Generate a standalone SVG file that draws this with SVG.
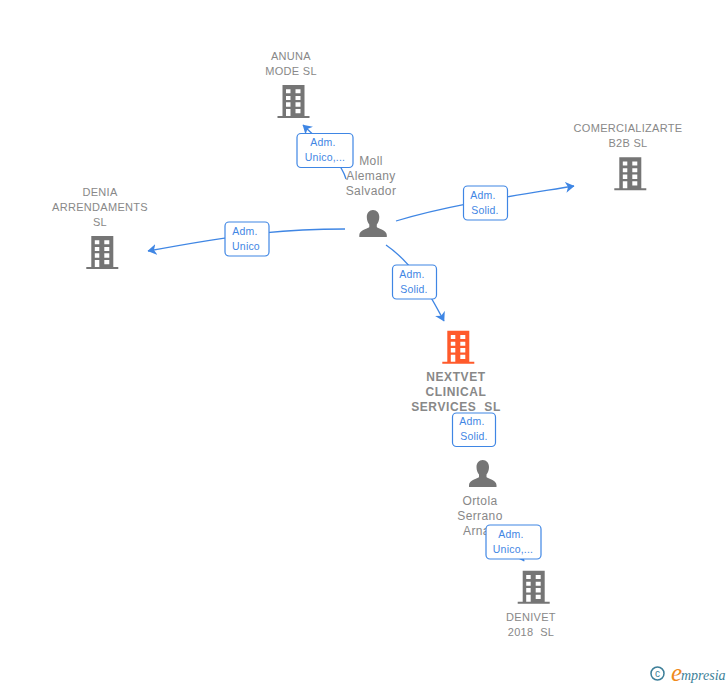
<svg xmlns="http://www.w3.org/2000/svg" width="728" height="685" viewBox="0 0 728 685">
<style>
.n{font:11px "Liberation Sans",Arial,sans-serif;fill:#888;text-anchor:middle;letter-spacing:.3px;white-space:pre}
.p{font-size:12px;letter-spacing:.4px}
.b{font-weight:bold;font-size:12px;letter-spacing:.6px}
.e{font:10.500px "Liberation Sans",Arial,sans-serif;fill:#3f86e4;text-anchor:middle;letter-spacing:.2px}
.box{fill:#fff;stroke:#3f86e4;stroke-width:1.2}
.l{fill:none;stroke:#3f86e4;stroke-width:1.3}
</style>
<defs>
<marker id="a" markerUnits="userSpaceOnUse" markerWidth="10" markerHeight="12" refX="8.500" refY="5.500" orient="auto"><path d="M0 0L9 5.500L0 11L2.500 5.500Z" fill="#3f86e4"/></marker>
<path id="bld" fill-rule="evenodd" d="M5 0H27V31H32V33H0V31H5ZM8.500 4.300V8.300H13V4.300ZM18 4.300V8.300H23V4.300ZM8.500 11V15H13V11ZM18 11V15H23V11ZM8.500 17.300V21.700H13V17.300ZM18 17.300V21.700H23V17.300ZM8.500 24V31H13V24ZM18 24V28.300H23V24Z"/>
<path id="per" d="M13.700 0C17.500 0 20 3 20 7C20 10 19 12.500 17.500 14.500V17C17.500 18.500 27.500 19.500 27.500 25V27H0V25C0 19.500 10 18.500 10 17V14.500C8.500 12.500 7.500 10 7.500 7C7.500 3 10 0 13.700 0Z"/>
</defs>
<rect width="728" height="685" fill="#fff"/>
<g id="connectors">
<path class="l" d="M346 179C343 168 330 150 303 125" marker-end="url(#a)"/>
<path class="l" d="M396 221C450 205 500 198 574 186" marker-end="url(#a)"/>
<path class="l" d="M345 229C290 229 250 232 148 251" marker-end="url(#a)"/>
<path class="l" d="M386 245C415 265 430 295 444 321" marker-end="url(#a)"/>
<path class="l" d="M510 540L524 561" marker-end="url(#a)"/>
</g>
<g id="anuna"><text class="n" x="291" y="60">ANUNA</text><text class="n" x="291" y="75">MODE SL</text><use href="#bld" x="277.500" y="85" fill="#757575"/></g>
<g id="comercializarte"><text class="n" x="628" y="132">COMERCIALIZARTE</text><text class="n" x="628" y="147">B2B SL</text><use href="#bld" x="614.300" y="157.300" fill="#757575"/></g>
<g id="denia"><text class="n" x="100" y="196">DENIA</text><text class="n" x="100" y="211">ARRENDAMENTS</text><text class="n" x="100" y="226">SL</text><use href="#bld" x="86.300" y="236" fill="#757575"/></g>
<g id="moll"><text class="n p" x="371" y="165">Moll</text><text class="n p" x="371" y="180">Alemany</text><text class="n p" x="371" y="195">Salvador</text><use href="#per" x="359.300" y="210" fill="#757575"/></g>
<g id="nextvet"><use href="#bld" x="442.300" y="330.700" fill="#ff5a2b"/><text class="n b" x="456" y="381">NEXTVET</text><text class="n b" x="456" y="396">CLINICAL</text><text class="n b" x="456" y="411">SERVICES  SL</text></g>
<g id="ortola"><use href="#per" x="469" y="460" fill="#757575"/><text class="n p" x="480" y="505">Ortola</text><text class="n p" x="480" y="520">Serrano</text><text class="n p" x="480" y="535">Arnau</text></g>
<g id="denivet"><use href="#bld" x="517.700" y="570.700" fill="#757575"/><text class="n" x="531" y="621">DENIVET</text><text class="n" x="531" y="636">2018  SL</text></g>
<g id="label-anuna"><rect class="box" x="297" y="133.500" width="56" height="34" rx="4"/><text class="e" x="323" y="146">Adm.</text><text class="e" x="325" y="161">Unico,...</text></g>
<g id="label-comercializarte"><rect class="box" x="463.500" y="186" width="44" height="34" rx="4"/><text class="e" x="483" y="199">Adm.</text><text class="e" x="485" y="214">Solid.</text></g>
<g id="label-denia"><rect class="box" x="225" y="222" width="44" height="34" rx="4"/><text class="e" x="245" y="235">Adm.</text><text class="e" x="246" y="250">Unico</text></g>
<g id="label-nextvet"><rect class="box" x="392.500" y="265" width="44" height="34" rx="4"/><text class="e" x="412" y="278">Adm.</text><text class="e" x="414" y="293">Solid.</text></g>
<g id="label-ortola"><rect class="box" x="452.500" y="413" width="43" height="33.500" rx="4"/><text class="e" x="472" y="425">Adm.</text><text class="e" x="474" y="440">Solid.</text></g>
<g id="label-denivet"><rect class="box" x="486" y="525" width="55" height="34" rx="4"/><text class="e" x="511" y="538">Adm.</text><text class="e" x="513" y="553">Unico,...</text></g>
<g id="logo"><circle cx="657.500" cy="673.500" r="6.500" fill="none" stroke="#3d7f99" stroke-width="1.500"/><text x="657.500" y="677" font-family="Liberation Sans,sans-serif" font-size="10" fill="#3d7f99" text-anchor="middle">c</text><text x="671" y="681" font-family="Liberation Serif,serif" font-style="italic" font-size="25" fill="#f08a1c">e</text><text x="681" y="680" font-family="Liberation Serif,serif" font-style="italic" font-size="14" fill="#3d7f99">mpresia</text></g>
</svg>
